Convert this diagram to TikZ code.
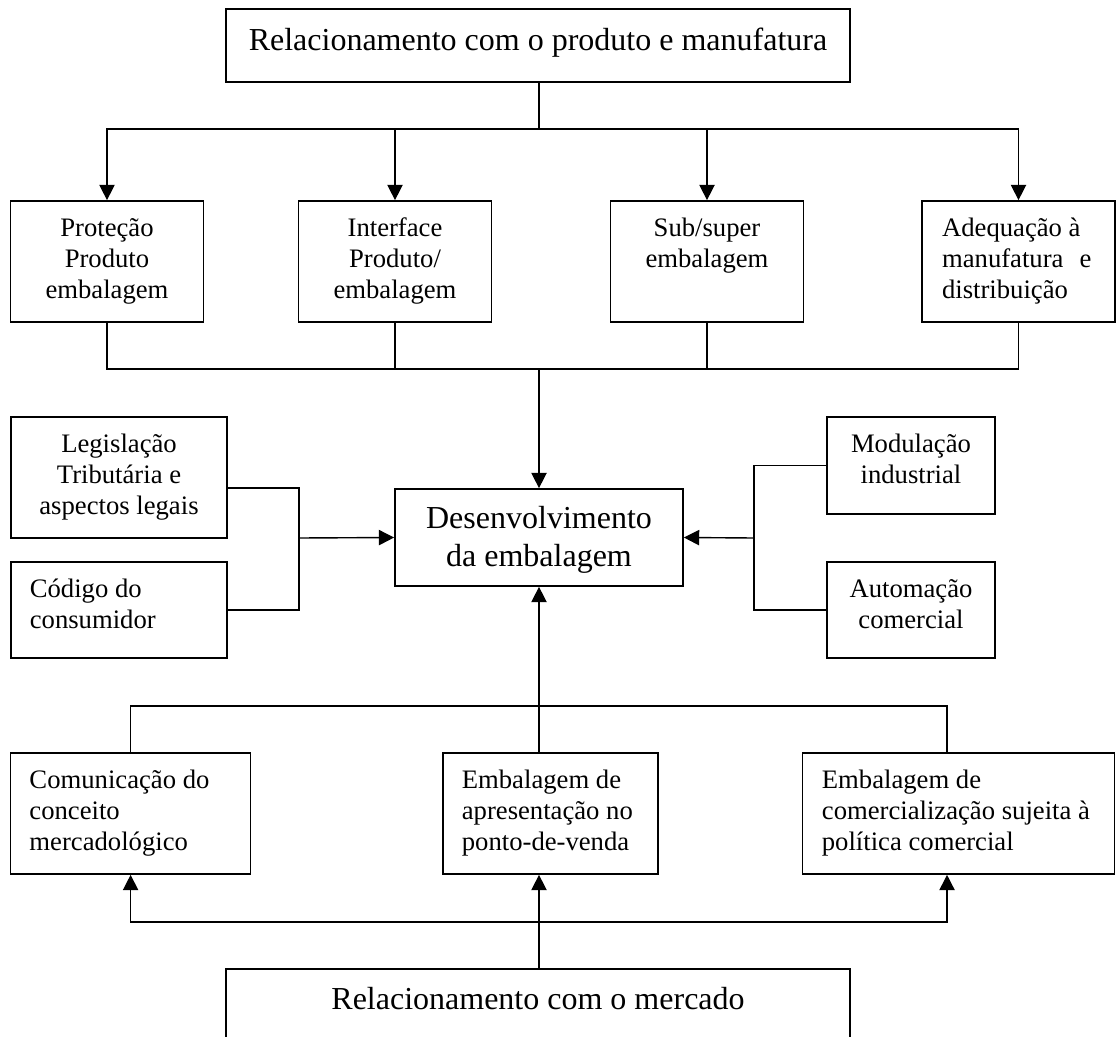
\documentclass[tikz,border=0pt]{standalone}
\usepackage{fontspec}
\setmainfont{Liberation Serif}
\usetikzlibrary{arrows.meta}
\newcommand{\mystrut}{\rule{0pt}{0.8em}}
\begin{document}
\begin{tikzpicture}[x=0.75pt,y=-0.75pt,
  box/.style={draw, line width=1.3pt, inner sep=0pt, rectangle},
  conn/.style={line width=1.05pt},
  arr/.style={conn, -{Triangle[length=11.5pt,width=11.5pt]}},
  small/.style={font=\fontsize{20pt}{23.3pt}\selectfont, inner sep=0pt},
  big/.style={font=\fontsize{24pt}{28.5pt}\selectfont, inner sep=0pt},
  rowbox/.style={box, minimum width=144.75pt, minimum height=90.75pt},
]
\useasboundingbox (0,0) rectangle (1116,1037);

% boxes
\node[box, minimum width=468pt, minimum height=54.75pt] (top) at (538,45.5) {};
\node[rowbox] (p1) at (107,261.5) {};
\node[rowbox] (p2) at (395,261.5) {};
\node[rowbox] (p3) at (707,261.5) {};
\node[rowbox] (p4) at (1018.5,261.5) {};
\node[box, minimum width=216pt, minimum height=72.75pt] (dev) at (539,537.5) {};
\node[box, minimum width=162pt, minimum height=90.75pt] (leg) at (119,477.5) {};
\node[box, minimum width=162pt, minimum height=72pt] (cod) at (119,610) {};
\node[box, minimum width=126pt, minimum height=72.75pt] (mod) at (911,465.5) {};
\node[box, minimum width=126pt, minimum height=72pt] (aut) at (911,610) {};
\node[box, minimum width=180pt, minimum height=90.75pt] (cA) at (130.6,813.5) {};
\node[box, minimum width=161.25pt, minimum height=90.75pt] (cB) at (550.5,813.5) {};
\node[box, minimum width=234pt, minimum height=90.75pt] (cC) at (958.5,813.5) {};
\node[box, minimum width=468pt, minimum height=60pt] (mk) at (538,1009) {};

% texts
\node[big, align=center, anchor=north] (topt) at ([yshift=-12.3pt]top.north) {\mystrut Relacionamento com o produto e manufatura};
\node[small, align=center, anchor=north] (p1t) at ([yshift=-11pt]p1.north) {\mystrut Proteção\\Produto\\embalagem};
\node[small, align=center, anchor=north] (p2t) at ([yshift=-11pt]p2.north) {\mystrut Interface\\Produto/\\embalagem};
\node[small, align=center, anchor=north] (p3t) at ([yshift=-11pt]p3.north) {\mystrut Sub/super\\embalagem};
\node[small, align=left, anchor=north west] (p4t) at ([xshift=15.5pt,yshift=-11pt]p4.north west) {\mystrut Adequação à\\manufatura\hspace{0.35em} e\\distribuição};
\node[big, align=center, anchor=north] (devt) at ([yshift=-10.8pt]dev.north) {\mystrut Desenvolvimento\\da embalagem};
\node[small, align=center, anchor=north] (legt) at ([yshift=-11pt]leg.north) {\mystrut Legislação\\Tributária e\\aspectos legais};
\node[small, align=left, anchor=north west] (codt) at ([xshift=14.6pt,yshift=-11pt]cod.north west) {\mystrut Código do\\consumidor};
\node[small, align=center, anchor=north] (modt) at ([yshift=-11pt]mod.north) {\mystrut Modulação\\industrial};
\node[small, align=center, anchor=north] (autt) at ([yshift=-11pt]aut.north) {\mystrut Automação\\comercial};
\node[small, align=left, anchor=north west] (cAt) at ([xshift=14.6pt,yshift=-11pt]cA.north west) {\mystrut Comunicação do\\conceito\\mercadológico};
\node[small, align=left, anchor=north west] (cBt) at ([xshift=14.6pt,yshift=-11pt]cB.north west) {\mystrut Embalagem de\\apresentação no\\ponto-de-venda};
\node[small, align=left, anchor=north west] (cCt) at ([xshift=15pt,yshift=-11pt]cC.north west) {\mystrut Embalagem de\\comercialização sujeita à\\política comercial};
\node[big, align=center, anchor=north] (mkt) at ([yshift=-11.55pt]mk.north) {\mystrut Relacionamento com o mercado};

% junctions
\coordinate (j1) at (539,129);
\coordinate (j2) at (539,369);
\coordinate (jl) at (299,538);
\coordinate (jr) at (754,538);
\coordinate (j4) at (539,706);
\coordinate (j5) at (539,922);

% top to row 2
\draw[conn] (top.south -| j1) -- (j1);
\draw[arr] (j1) -| (p1.north);
\draw[arr] (j1) -| (p4.north);
\draw[arr] (p2.north |- j1) -- (p2.north);
\draw[arr] (p3.north |- j1) -- (p3.north);

% row 2 to dev
\draw[conn] (p1.south) |- (j2);
\draw[conn] (p4.south) |- (j2);
\draw[conn] (p2.south) -- (p2.south |- j2);
\draw[conn] (p3.south) -- (p3.south |- j2);
\draw[arr] (j2) -- (dev.north);

% left side
\draw[conn] (leg.east |- dev.north) -| (jl) |- (cod.east);
\draw[arr] (jl) -- (dev.west);

% right side
\draw[conn] (mod.west) -| (jr) |- (aut.west);
\draw[arr] (jr) -- (dev.east);

% row 4 to dev
\draw[arr] (j4) -- (dev.south);
\draw[conn] (j4) -| (cA.north);
\draw[conn] (j4) -- (j4 |- cB.north);
\draw[conn] (j4) -| ([xshift=-8.6pt]cC.north);

% market to row 4
\draw[conn] (mk.north -| j5) -- (j5);
\draw[arr] (j5) -| (cA.south);
\draw[arr] (j5) -- (j5 |- cB.south);
\draw[arr] (j5) -| ([xshift=-8.6pt]cC.south);
\end{tikzpicture}
\end{document}
